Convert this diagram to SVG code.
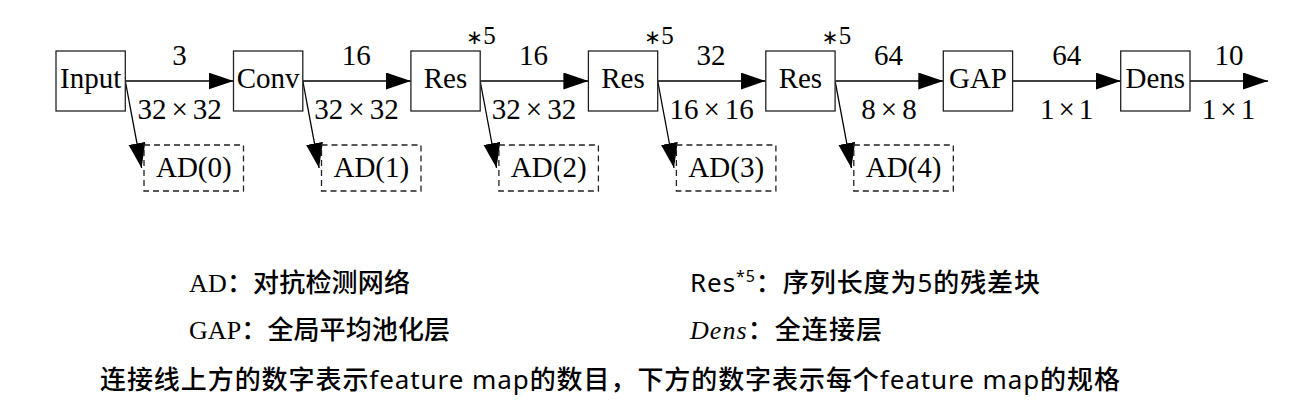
<svg xmlns="http://www.w3.org/2000/svg" width="1304" height="418" viewBox="0 0 1304 418">
<defs>
<marker id="arr" markerUnits="userSpaceOnUse" markerWidth="26" markerHeight="18" refX="25" refY="8.5" orient="auto">
<path d="M0,0 L25,8.5 L0,17 Z" fill="#000"/>
</marker>
<style>
.box{fill:#fff;stroke:#222;stroke-width:1.3}
.ad{fill:none;stroke:#222;stroke-width:1.3;stroke-dasharray:6 4}
.lbl{font-family:"Liberation Serif","DejaVu Serif",serif;font-size:29px;text-anchor:middle;fill:#000}
.num{font-family:"Liberation Serif","DejaVu Serif",serif;font-size:29px;text-anchor:middle;fill:#000}
.dim{font-family:"Liberation Serif","DejaVu Serif",serif;font-size:29px;fill:#000}
.star{text-anchor:middle;fill:#000}
.ast{font-family:"DejaVu Sans",sans-serif;font-size:20px}
.five{font-family:"Liberation Serif","DejaVu Serif",serif;font-size:25px}
.edge{stroke:#000;stroke-width:1.3;fill:none;marker-end:url(#arr)}
.leg{font-family:"Noto Sans","Noto Sans CJK SC",sans-serif;font-size:26px;font-weight:500;fill:#000}
.lat{font-weight:400}
.ser{font-family:"Liberation Serif","Noto Sans CJK SC",serif;font-weight:400}
</style>
</defs>
<rect width="1304" height="418" fill="#fff"/>

<g id="connectors">
<line class="edge" x1="125.3" y1="81" x2="233.5" y2="81"/>
<line class="edge" x1="302.8" y1="81" x2="410.9" y2="81"/>
<line class="edge" x1="480.2" y1="81" x2="588.4" y2="81"/>
<line class="edge" x1="657.7" y1="81" x2="765.8" y2="81"/>
<line class="edge" x1="835.1" y1="81" x2="943.3" y2="81"/>
<line class="edge" x1="1012.6" y1="81" x2="1120.7" y2="81"/>
<line class="edge" x1="1190" y1="81" x2="1268" y2="81"/>
<line class="edge" x1="125.3" y1="81" x2="141.6" y2="168"/>
<line class="edge" x1="302.8" y1="81" x2="319.1" y2="168"/>
<line class="edge" x1="480.2" y1="81" x2="496.5" y2="168"/>
<line class="edge" x1="657.7" y1="81" x2="674" y2="168"/>
<line class="edge" x1="835.1" y1="81" x2="851.4" y2="168"/>
<text class="num" x="179.4" y="65">3</text>
<text class="num" x="356.2" y="65">16</text>
<text class="num" x="533.6" y="65">16</text>
<text class="num" x="711" y="65">32</text>
<text class="num" x="888.5" y="65">64</text>
<text class="num" x="1066.7" y="65">64</text>
<text class="num" x="1229" y="65">10</text>
<text class="dim" x="137.5" y="119">32<tspan dx="5">×</tspan><tspan dx="5">32</tspan></text>
<text class="dim" x="314.3" y="119">32<tspan dx="5">×</tspan><tspan dx="5">32</tspan></text>
<text class="dim" x="491.8" y="119">32<tspan dx="5">×</tspan><tspan dx="5">32</tspan></text>
<text class="dim" x="669.5" y="119">16<tspan dx="5">×</tspan><tspan dx="5">16</tspan></text>
<text class="dim" x="861.3" y="119">8<tspan dx="5">×</tspan><tspan dx="5">8</tspan></text>
<text class="dim" x="1040" y="119">1<tspan dx="4">×</tspan><tspan dx="4">1</tspan></text>
<text class="dim" x="1201.8" y="119">1<tspan dx="4">×</tspan><tspan dx="4">1</tspan></text>
</g>

<g id="input"><rect class="box" x="56" y="51" width="69.3" height="60"/><text class="lbl" x="90.7" y="88">Input</text></g>
<g id="conv"><rect class="box" x="233.5" y="51" width="69.3" height="60"/><text class="lbl" x="268.1" y="88">Conv</text></g>
<g id="res1"><rect class="box" x="410.9" y="51" width="69.3" height="60"/><text class="lbl" x="445.5" y="88">Res</text><text class="star" x="481" y="44"><tspan class="ast">∗</tspan><tspan class="five">5</tspan></text></g>
<g id="res2"><rect class="box" x="588.4" y="51" width="69.3" height="60"/><text class="lbl" x="623" y="88">Res</text><text class="star" x="659" y="44"><tspan class="ast">∗</tspan><tspan class="five">5</tspan></text></g>
<g id="res3"><rect class="box" x="765.8" y="51" width="69.3" height="60"/><text class="lbl" x="800.4" y="88">Res</text><text class="star" x="836.5" y="44"><tspan class="ast">∗</tspan><tspan class="five">5</tspan></text></g>
<g id="gap"><rect class="box" x="943.3" y="51" width="69.3" height="60"/><text class="lbl" x="978" y="88">GAP</text></g>
<g id="dens"><rect class="box" x="1120.7" y="51" width="69.3" height="60"/><text class="lbl" x="1155.3" y="88">Dens</text></g>

<g id="ad0"><rect class="ad" x="144" y="145" width="99.5" height="46"/><text class="lbl" x="193.8" y="177">AD(0)</text></g>
<g id="ad1"><rect class="ad" x="321.5" y="145" width="99.5" height="46"/><text class="lbl" x="371.3" y="177">AD(1)</text></g>
<g id="ad2"><rect class="ad" x="498.9" y="145" width="99.5" height="46"/><text class="lbl" x="548.7" y="177">AD(2)</text></g>
<g id="ad3"><rect class="ad" x="676.4" y="145" width="99.5" height="46"/><text class="lbl" x="726.2" y="177">AD(3)</text></g>
<g id="ad4"><rect class="ad" x="853.8" y="145" width="99.5" height="46"/><text class="lbl" x="903.6" y="177">AD(4)</text></g>

<g id="legend">
<text class="leg" x="189" y="291.5" textLength="221" lengthAdjust="spacing"><tspan class="ser">AD</tspan>：对抗检测网络</text>
<text class="leg" x="189" y="338.5" textLength="261" lengthAdjust="spacing"><tspan class="ser">GAP</tspan>：全局平均池化层</text>
<text class="leg" x="690" y="291.5" textLength="350" lengthAdjust="spacing"><tspan class="lat">Res</tspan><tspan class="lat" font-size="16" dy="-10">*5</tspan><tspan dy="10">：序列长度为</tspan><tspan class="lat">5</tspan>的残差块</text>
<text class="leg" x="690" y="338.5" textLength="192" lengthAdjust="spacing"><tspan class="ser" font-style="italic">Dens</tspan>：全连接层</text>
<text class="leg" x="100" y="389" font-size="27" textLength="1020" lengthAdjust="spacing">连接线上方的数字表示<tspan class="lat">feature map</tspan>的数目，下方的数字表示每个<tspan class="lat">feature map</tspan>的规格</text>
</g>
</svg>
